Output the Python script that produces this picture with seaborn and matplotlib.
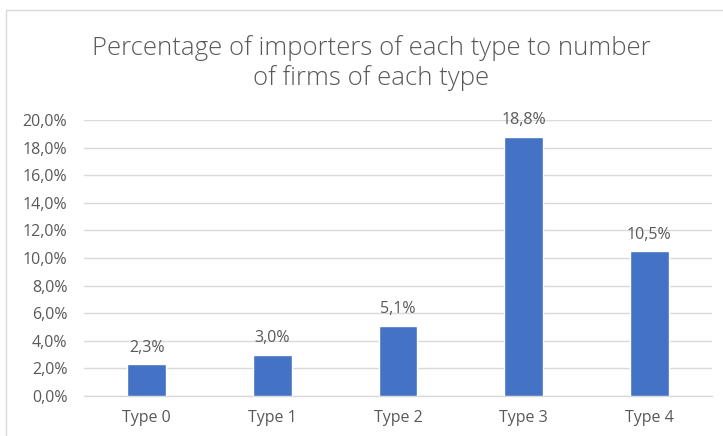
import matplotlib
matplotlib.use("Agg")
import matplotlib.pyplot as plt
import seaborn as sns
import pandas as pd
from matplotlib.patches import Rectangle
from matplotlib.ticker import FuncFormatter, MultipleLocator

categories = ["Type 0", "Type 1", "Type 2", "Type 3", "Type 4"]
values = [0.023, 0.030, 0.051, 0.188, 0.105]
title = "Percentage of importers of each type to number\nof firms of each type"

sns.set_theme(style="white")
plt.rcParams["font.family"] = ["Open Sans", "DejaVu Sans"]

df = pd.DataFrame({"cat": categories, "val": values})

fig = plt.figure(figsize=(7.23, 4.36), dpi=100)
ax = fig.add_axes([84/723, 1-396/436, (712-84)/723, (396-120)/436])

sns.barplot(data=df, x="cat", y="val", color="#4472C4", width=0.31, ax=ax,
            saturation=1, zorder=3)

text_col = "#595959"
ax.set_ylim(0, 0.2)
ax.set_xlim(-0.5, 4.5)
ax.yaxis.set_major_locator(MultipleLocator(0.02))
ax.yaxis.set_major_formatter(FuncFormatter(lambda v, p: f"{v*100:.1f}%".replace(".", ",")))
ax.grid(axis="y", color="#D9D9D9", linewidth=1, zorder=0)
ax.set_axisbelow(True)
for s in ["top", "right", "left"]:
    ax.spines[s].set_visible(False)
ax.spines["bottom"].set_color("#D9D9D9")
ax.spines["bottom"].set_linewidth(1)
ax.set_xlabel("")
ax.set_ylabel("")
ax.tick_params(axis="both", length=0, labelsize=11.5, labelcolor=text_col)
ax.tick_params(axis="y", pad=12)
ax.tick_params(axis="x", pad=10)

for i, v in enumerate(values):
    ax.annotate(f"{v*100:.1f}%".replace(".", ","), (i, v), xytext=(0, 6),
                textcoords="offset points", ha="center", va="bottom",
                fontsize=11.5, color=text_col)

fig.text(371/723, 1-63/436, title, ha="center", va="center", fontsize=18.5,
         color=text_col, fontweight="light", linespacing=1.25)

fig.patches.append(Rectangle((6/723, -0.1), 1.1, 1-10/436+0.1, transform=fig.transFigure,
                             fill=False, edgecolor="#D9D9D9", linewidth=1, zorder=0))

fig.savefig("out.png", dpi=100)
